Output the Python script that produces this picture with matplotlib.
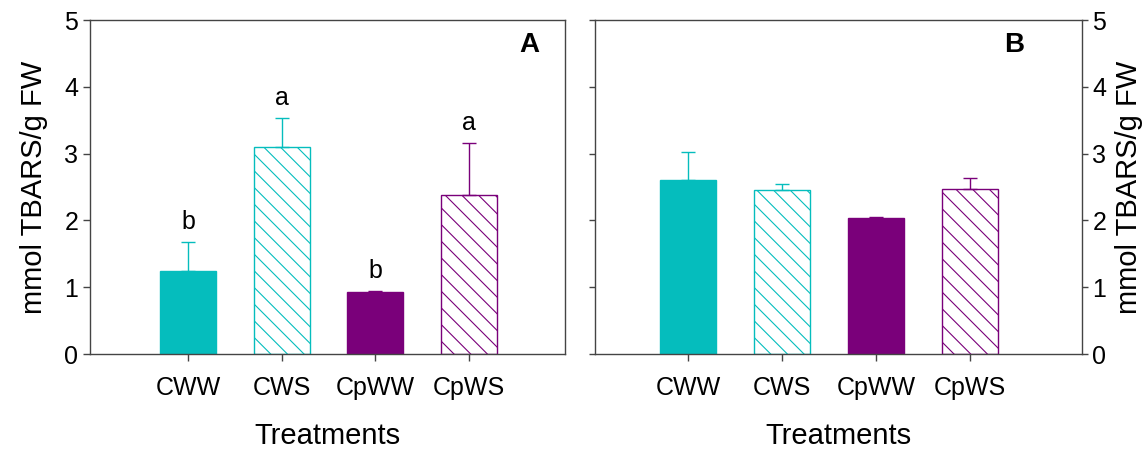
import numpy as np
import matplotlib
matplotlib.use("Agg")
import matplotlib.pyplot as plt

plt.rcParams['font.family'] = ['Liberation Sans', 'DejaVu Sans']
plt.rcParams['hatch.linewidth'] = 0.8

# ---- data -------------------------------------------------------------
treatments = ["CWW", "CWS", "CpWW", "CpWS"]

mean_a = [1.25, 3.10, 0.93, 2.38]
err_a = [0.43, 0.43, 0.01, 0.78]
letters_a = ["b", "a", "b", "a"]

mean_b = [2.61, 2.46, 2.04, 2.47]
err_b = [0.42, 0.09, 0.01, 0.16]

TEAL = "#05BDBD"
PURPLE = "#7A007A"
colors = [TEAL, TEAL, PURPLE, PURPLE]
hatched = [False, True, False, True]
SPINE = "#444444"

x = np.arange(1, 5)


def draw_bars(ax, means, errs):
    for xi, m, e, c, h in zip(x, means, errs, colors, hatched):
        if h:
            ax.bar(xi, m, width=0.6, facecolor="white", edgecolor=c,
                   hatch="\\\\", linewidth=1.0, zorder=2)
        else:
            ax.bar(xi, m, width=0.6, color=c, edgecolor=c, linewidth=1.0, zorder=2)
        ax.errorbar(xi, m, yerr=[[0], [e]], fmt="none", ecolor=c,
                    elinewidth=1.0, capsize=5, capthick=1.0, zorder=3)


def style_axes(ax):
    ax.set_ylim(0, 5)
    ax.set_yticks(range(0, 6))
    ax.set_xticks(x)
    ax.set_xticklabels(treatments, fontsize=18)
    for s in ax.spines.values():
        s.set_color(SPINE)
        s.set_linewidth(1.0)
    ax.tick_params(axis="both", colors=SPINE, labelcolor="black",
                   labelsize=18, length=5, width=1.0, direction="out")
    ax.tick_params(axis="x", pad=11)
    ax.set_xlabel("Treatments", fontsize=21, labelpad=16)


fig = plt.figure(figsize=(11.42, 4.5), dpi=100)

# ---- panel A -------------------------------------------------------------
axA = fig.add_axes([0.0788, 0.2133, 0.416, 0.742])
draw_bars(axA, mean_a, err_a)
axA.set_xlim(-0.05, 5.03)
style_axes(axA)
axA.set_ylabel("mmol TBARS/g FW", fontsize=21, labelpad=12)
for xi, m, e, t in zip(x, mean_a, err_a, letters_a):
    axA.text(xi, m + e + 0.12, t, ha="center", va="bottom", fontsize=18)
axA.text(0.925, 0.925, "A", transform=axA.transAxes, fontsize=20,
         fontweight="bold", ha="center", va="center")

# ---- panel B -------------------------------------------------------------
axB = fig.add_axes([0.521, 0.2133, 0.4264, 0.742])
draw_bars(axB, mean_b, err_b)
axB.set_xlim(0.01, 5.19)
style_axes(axB)
axB.yaxis.set_ticks_position("both")
axB.yaxis.set_label_position("right")
axB.tick_params(axis="y", labelleft=False, labelright=True)
axB.tick_params(axis="y", which="both", left=True, length=4)
axB.set_ylabel("mmol TBARS/g FW", fontsize=21, labelpad=6)
axB.text(0.86, 0.925, "B", transform=axB.transAxes, fontsize=20,
         fontweight="bold", ha="center", va="center")

fig.savefig("out.png", dpi=100)
